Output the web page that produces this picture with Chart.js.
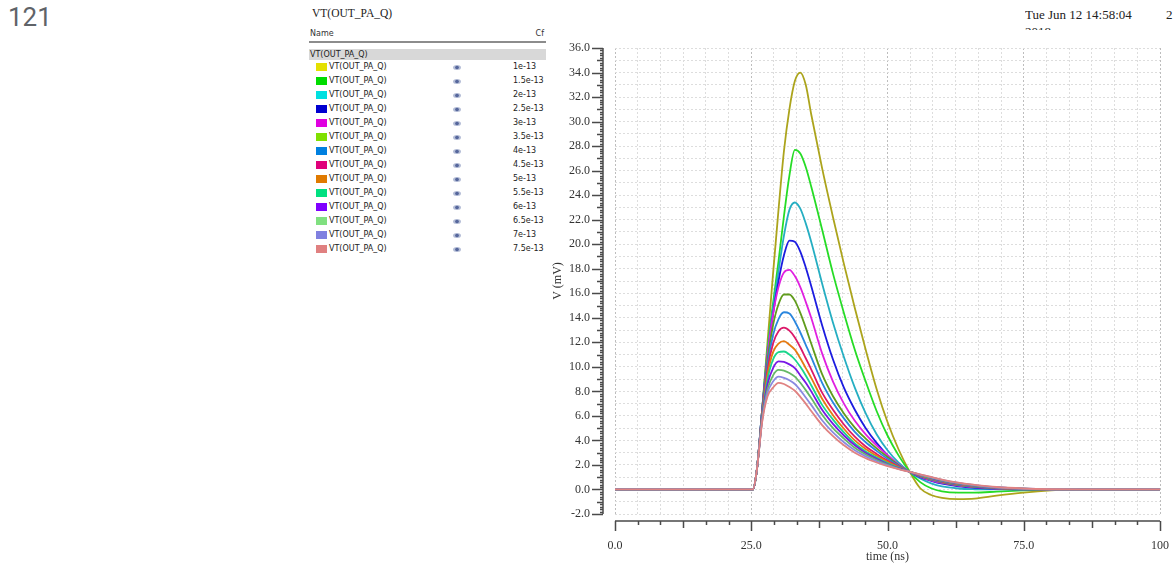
<!DOCTYPE html>
<html>
<head>
<meta charset="utf-8">
<script src="https://cdn.jsdelivr.net/npm/chart.js@4.4.1/dist/chart.umd.min.js"></script>
<style>
  html, body { margin: 0; padding: 0; background: #fff; }
  body { position: relative; width: 1174px; height: 565px; overflow: hidden; }
  .abs { position: absolute; white-space: nowrap; }
  #pageNum { left: 8px; top: 2px; font: 26px Roboto, sans-serif; color: #5f6368; }
  #sigTitle { left: 312px; top: 7px; font: 11.5px "Liberation Serif", serif; color: #222; }
  #stamp { left: 1025px; top: 6px; width: 130px; height: 24px; overflow: hidden; font: 13px/17px "Liberation Serif", serif; color: #222; }
  #stamp2 { left: 1166px; top: 6px; font: 13px/17px "Liberation Serif", serif; color: #222; }
  .lg { font-family: "DejaVu Sans", sans-serif; font-size: 8px; color: #222; }
  #lgHead { left: 310px; top: 28px; width: 234px; height: 12px; line-height: 12px; color: #333; }
  #lgHead span.r { position: absolute; right: 0; }
  #lgRule { left: 309px; top: 41px; width: 237px; height: 2px; background: #8c8c8c; }
  #lgBand { left: 309px; top: 49px; width: 237px; height: 11px; line-height: 11px; background: #d8d8d8; padding-left: 1px; box-sizing: border-box; }
  #lgRows { left: 309px; top: 60px; width: 237px; }
  .row { position: relative; height: 14px; line-height: 14px; }
  .row .sw { position: absolute; left: 7px; top: 3px; width: 11px; height: 8px; }
  .row .nm { position: absolute; left: 20px; top: 0; }
  .row .eye { position: absolute; left: 144px; top: 5px; width: 8px; height: 5px; border-radius: 50%;
              background: radial-gradient(circle, #56679c 0 30%, #b4bdd6 45% 100%); }
  .row .cf { position: absolute; left: 204px; top: 0; }
  #chartBox { position: absolute; left: 530px; top: 0; }
</style>
</head>
<body>
<div id="pageNum" class="abs">121</div>
<div id="sigTitle" class="abs">VT(OUT_PA_Q)</div>
<div id="stamp" class="abs">Tue Jun 12 14:58:04<br>2018</div>
<div id="stamp2" class="abs">2</div>

<div id="lgHead" class="abs lg">Name<span class="r">Cf</span></div>
<div id="lgRule" class="abs"></div>
<div id="lgBand" class="abs lg">VT(OUT_PA_Q)</div>
<div id="lgRows" class="abs lg"></div>

<div id="chartBox"><canvas id="c" width="664" height="565"></canvas></div>

<script>
// time axis samples (ns)
const timeNs = [0, 25.3, 26, 27, 28, 29, 30, 31, 32, 33, 34, 35, 36, 38, 40, 42, 44, 46, 48, 50, 52, 54, 56, 58, 60, 63, 66, 70, 75, 80, 85, 100];

// VT(OUT_PA_Q) in mV, one array per Cf value
const cf1e13  = [0, 0, 1.5, 6.5, 12.1, 17.6, 22.8, 27.6, 31.0, 33.3, 34.0, 33.0, 30.6, 26.2, 22.2, 18.4, 14.8, 11.4, 8.2, 5.5, 3.3, 1.5, 0.1, -0.45, -0.68, -0.78, -0.74, -0.5, -0.25, -0.08, 0, 0];
const cf15e13 = [0, 0, 1.5, 6.5, 11.5, 15.2, 18.6, 22.3, 25.6, 27.7, 27.4, 26.3, 24.7, 21.2, 17.6, 14.4, 11.4, 8.8, 6.4, 4.4, 2.8, 1.5, 0.6, 0.1, -0.15, -0.25, -0.25, -0.18, -0.08, -0.02, 0, 0];
const cf2e13  = [0, 0, 1.5, 6.5, 11.2, 14.8, 17.8, 20.7, 22.8, 23.4, 22.9, 21.7, 20.2, 16.8, 13.6, 10.8, 8.3, 6.2, 4.5, 3.2, 2.2, 1.45, 0.9, 0.5, 0.25, 0.08, 0.02, 0, 0, 0, 0, 0];
const cf25e13 = [0, 0, 1.5, 6.5, 10.9, 14.3, 17.0, 19.1, 20.3, 20.2, 19.4, 18.1, 16.6, 13.4, 10.6, 8.3, 6.5, 5.0, 3.8, 2.8, 2.0, 1.45, 1.0, 0.7, 0.47, 0.26, 0.14, 0.05, 0.01, 0, 0, 0];
const cf3e13  = [0, 0, 1.5, 6.4, 11.0, 14.3, 16.5, 17.7, 17.9, 17.4, 16.5, 15.3, 14.0, 11.1, 8.8, 7.0, 5.6, 4.5, 3.6, 2.8, 2.05, 1.45, 1.05, 0.75, 0.53, 0.32, 0.19, 0.08, 0.02, 0, 0, 0];
const cf35e13 = [0, 0, 1.5, 6.3, 10.6, 13.4, 15.1, 15.9, 15.9, 15.4, 14.4, 13.2, 11.9, 9.4, 7.6, 6.2, 5.05, 4.15, 3.35, 2.65, 2.0, 1.45, 1.08, 0.8, 0.58, 0.36, 0.22, 0.1, 0.03, 0, 0, 0];
const cf4e13  = [0, 0, 1.5, 6.2, 10.2, 12.6, 13.9, 14.45, 14.35, 13.7, 12.8, 11.8, 10.8, 8.7, 7.1, 5.8, 4.7, 3.85, 3.15, 2.5, 1.95, 1.45, 1.1, 0.83, 0.62, 0.4, 0.25, 0.12, 0.04, 0.01, 0, 0];
const cf45e13 = [0, 0, 1.5, 6.1, 9.8, 11.9, 12.9, 13.2, 12.95, 12.4, 11.6, 10.7, 9.8, 7.9, 6.5, 5.3, 4.3, 3.5, 2.9, 2.35, 1.88, 1.45, 1.12, 0.86, 0.65, 0.43, 0.27, 0.13, 0.05, 0.01, 0, 0];
const cf5e13  = [0, 0, 1.5, 6.0, 9.4, 11.2, 11.9, 12.1, 11.8, 11.4, 10.7, 9.9, 9.1, 7.4, 6.05, 4.95, 4.0, 3.3, 2.75, 2.25, 1.82, 1.45, 1.14, 0.89, 0.68, 0.45, 0.29, 0.14, 0.05, 0.01, 0, 0];
const cf55e13 = [0, 0, 1.5, 5.9, 9.0, 10.6, 11.2, 11.25, 11.0, 10.6, 10.0, 9.3, 8.5, 6.9, 5.7, 4.65, 3.75, 3.1, 2.6, 2.15, 1.78, 1.45, 1.16, 0.91, 0.7, 0.47, 0.3, 0.15, 0.06, 0.01, 0, 0];
const cf6e13  = [0, 0, 1.5, 5.8, 8.6, 9.9, 10.45, 10.4, 10.2, 9.9, 9.3, 8.7, 8.0, 6.5, 5.35, 4.4, 3.6, 2.98, 2.5, 2.08, 1.74, 1.45, 1.18, 0.93, 0.72, 0.49, 0.32, 0.16, 0.06, 0.01, 0, 0];
const cf65e13 = [0, 0, 1.5, 5.7, 8.2, 9.3, 9.75, 9.7, 9.5, 9.2, 8.7, 8.1, 7.45, 6.1, 5.0, 4.15, 3.4, 2.85, 2.4, 2.02, 1.7, 1.45, 1.2, 0.96, 0.75, 0.51, 0.34, 0.17, 0.07, 0.02, 0, 0];
const cf7e13  = [0, 0, 1.5, 5.6, 7.9, 8.8, 9.2, 9.1, 8.9, 8.6, 8.1, 7.5, 6.9, 5.65, 4.65, 3.85, 3.2, 2.7, 2.3, 1.96, 1.67, 1.45, 1.22, 0.99, 0.78, 0.53, 0.36, 0.18, 0.07, 0.02, 0, 0];
const cf75e13 = [0, 0, 1.5, 5.5, 7.6, 8.3, 8.7, 8.6, 8.35, 8.05, 7.55, 7.0, 6.4, 5.25, 4.35, 3.6, 3.0, 2.55, 2.2, 1.9, 1.65, 1.45, 1.24, 1.02, 0.8, 0.55, 0.38, 0.2, 0.08, 0.02, 0, 0];

const seriesValues = [cf1e13, cf15e13, cf2e13, cf25e13, cf3e13, cf35e13, cf4e13, cf45e13, cf5e13, cf55e13, cf6e13, cf65e13, cf7e13, cf75e13];
const signalName = 'VT(OUT_PA_Q)';
const cfLabels = ['1e-13', '1.5e-13', '2e-13', '2.5e-13', '3e-13', '3.5e-13', '4e-13', '4.5e-13', '5e-13', '5.5e-13', '6e-13', '6.5e-13', '7e-13', '7.5e-13'];

// axis ticks
const xMajorTicks = [0, 25, 50, 75, 100];
const xTickLabels = ['0.0', '25.0', '50.0', '75.0', '100'];
const yMin = -2, yMax = 36;

// styles
const lineColors = ['#aca41c', '#26dc26', '#25aec2', '#1c1ce0', '#e020e0', '#609c1c', '#2a86de', '#dc1a6a', '#e57a12', '#1ad68c', '#7818e6', '#66b866', '#8a8ae0', '#e08282'];
const swatchColors = ['#e4e000', '#00dc00', '#00e0e0', '#0000d0', '#e000e0', '#80e000', '#0080e0', '#e0007a', '#e07a00', '#00e080', '#8000ff', '#80e080', '#8080e0', '#e08080'];

// legend list
const rows = document.getElementById('lgRows');
cfLabels.forEach((cf, i) => {
    const r = document.createElement('div');
    r.className = 'row';
    r.innerHTML = '<span class="sw" style="background:' + swatchColors[i] + '"></span>' +
        '<span class="nm">' + signalName + '</span><span class="eye"></span>' +
        '<span class="cf">' + cf + '</span>';
    rows.appendChild(r);
});

// minor x positions: 6 subdivisions per 25 ns
const xGridValues = [];
for (let k = 0; k <= 24; k++) xGridValues.push(k * 25 / 6);

const isMajorX = v => xMajorTicks.some(m => Math.abs(m - v) < 1e-6);

// axis lines drawn away from the plot, like the simulator view
const detachedAxes = {
    id: 'detachedAxes',
    afterDraw(chart) {
        const { ctx, chartArea } = chart;
        const xs = chart.scales.x, ys = chart.scales.y;
        ctx.save();
        ctx.strokeStyle = '#4a4a4a';
        ctx.lineWidth = 1.5;

        const ax = chartArea.left - 12;
        ctx.beginPath();
        ctx.moveTo(ax, ys.getPixelForValue(yMax));
        ctx.lineTo(ax, ys.getPixelForValue(yMin));
        for (let k = 0; k <= (yMax - yMin) * 5; k++) {
            const py = Math.round(ys.getPixelForValue(yMin + k * 0.2)) + 0.5;
            const len = k % 10 === 0 ? 11 : (k % 5 === 0 ? 6 : 3);
            ctx.moveTo(ax - len, py);
            ctx.lineTo(ax, py);
        }
        ctx.stroke();

        const ay = chartArea.bottom + 7;
        ctx.beginPath();
        ctx.moveTo(xs.getPixelForValue(0), ay);
        ctx.lineTo(xs.getPixelForValue(100), ay);
        xGridValues.forEach((v, k) => {
            const px = Math.round(xs.getPixelForValue(v)) + 0.5;
            const len = k % 6 === 0 ? 10 : (k % 3 === 0 ? 7 : 4);
            ctx.moveTo(px, ay);
            ctx.lineTo(px, ay + len);
        });
        ctx.stroke();
        ctx.restore();
    }
};

const tickFont = { family: '"Liberation Serif", serif', size: 12 };

new Chart(document.getElementById('c'), {
    type: 'line',
    data: {
        datasets: seriesValues.map((vals, i) => ({
            label: signalName + ' ' + cfLabels[i],
            data: vals.map((v, j) => ({ x: timeNs[j], y: v })),
            borderColor: lineColors[i],
            backgroundColor: lineColors[i],
            borderWidth: 1.8,
            pointRadius: 0,
            fill: false,
            cubicInterpolationMode: 'monotone',
            order: seriesValues.length - 1 - i
        }))
    },
    options: {
        responsive: false,
        animation: false,
        devicePixelRatio: 1,
        layout: { padding: { left: 17, right: 14, top: 48, bottom: 0 } },
        plugins: { legend: { display: false }, tooltip: { enabled: false } },
        scales: {
            x: {
                type: 'linear',
                min: 0,
                max: 100,
                afterBuildTicks: s => { s.ticks = xGridValues.map(v => ({ value: v })); },
                afterFit: s => { s.height = 51; },
                grid: {
                    drawTicks: false,
                    color: c => (c.tick && isMajorX(c.tick.value)) ? '#bdbdbd' : '#dddddd',
                    lineWidth: 1
                },
                border: { display: false, dash: [2, 2] },
                ticks: {
                    autoSkip: false,
                    maxRotation: 0,
                    padding: 25,
                    color: '#333',
                    font: tickFont,
                    callback: v => {
                        const i = xMajorTicks.findIndex(m => Math.abs(m - v) < 1e-6);
                        return i >= 0 ? xTickLabels[i] : '';
                    }
                },
                title: { display: true, text: 'time (ns)', color: '#333', font: tickFont, padding: { top: 0, bottom: 1 } }
            },
            y: {
                min: yMin,
                max: yMax,
                afterFit: s => { s.width = 68; },
                grid: { drawTicks: false, color: '#dddddd', lineWidth: 1 },
                border: { display: false, dash: [2, 2] },
                ticks: {
                    stepSize: 1,
                    autoSkip: false,
                    padding: 25,
                    color: '#333',
                    font: tickFont,
                    callback: v => (Math.round(v) % 2 === 0 ? v.toFixed(1) : '')
                },
                title: { display: true, text: 'V (mV)', color: '#333', font: tickFont }
            }
        }
    },
    plugins: [detachedAxes]
});
</script>
</body>
</html>
